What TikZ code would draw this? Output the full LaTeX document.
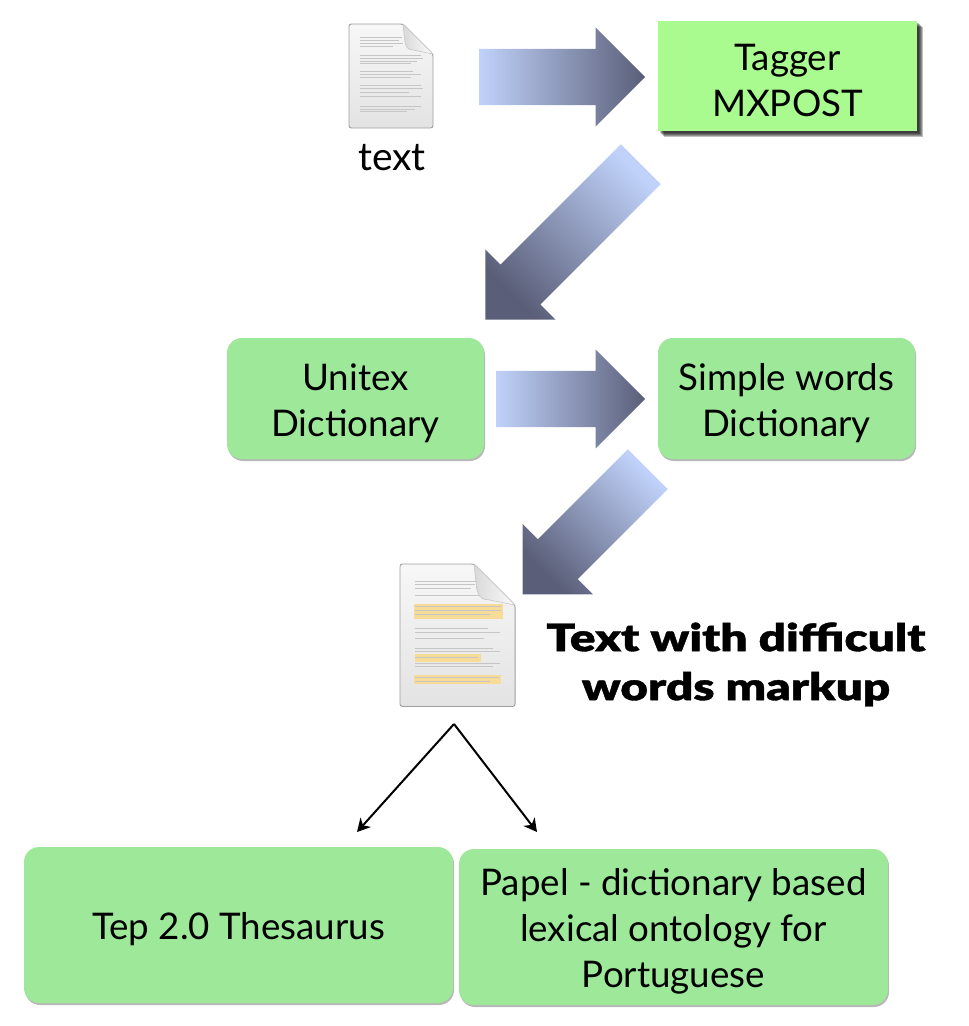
\documentclass[tikz,border=0pt]{standalone}
\usepackage{fontspec}
\setmainfont{Lato}
\newfontfamily\heavyfont[FakeStretch=1.255,FakeBold=1]{Lato Black}
\usetikzlibrary{arrows.meta,shapes.arrows,shadows}

\definecolor{taggergreen}{RGB}{170,251,143}
\definecolor{boxgreen}{RGB}{157,232,153}
\definecolor{arrowlight}{RGB}{192,210,250}
\definecolor{arrowdark}{RGB}{90,94,120}
\definecolor{markyellow}{RGB}{246,220,150}

\newcommand{\lift}{\rule{0pt}{36pt}}

\tikzset{
  doc sheet/.pic={
    \shade[top color=gray!6,bottom color=gray!22,draw=gray!75,line width=0.9pt,rounded corners=2.5pt]
      (0,0) -- (54,0) -- (84,30) -- (84,104) -- (0,104) -- cycle;
    \shade[left color=gray!30,right color=gray!3,draw=gray!45,line width=0.6pt]
      (54,0) -- (84,30) -- (64,26) .. controls (58,26) and (57,22) .. (56,18) -- cycle;
  },
  doc line/.style={draw=gray!45,line width=0.7pt},
  mark bar/.style={fill=markyellow},
  soft layer/.style={general shadow={fill=black,fill opacity=.25,shadow xshift=#1pt,shadow yshift=-#1pt}},
}

\begin{document}
\begin{tikzpicture}[x=1pt,y=-1pt,>={Stealth[length=13pt,width=14pt,inset=4pt]},
  plain box/.style={rectangle,inner sep=0pt,align=center,font=\fontsize{36.7}{46}\selectfont},
  green box/.style={plain box,fill=boxgreen,rounded corners=15pt,
    general shadow={fill=black!28,shadow xshift=1pt,shadow yshift=-2pt}},
  fat arrow/.style={single arrow,anchor=tail,inner xsep=0pt,inner ysep=28pt,
    single arrow head extend=21.5pt,single arrow tip angle=90,
    left color=arrowlight,right color=arrowdark},
  down arrow/.style={fat arrow,rotate=-135,shading angle=-45}]

  \useasboundingbox (0,0) rectangle (969,1026);

  % boxes
  \node[plain box,fill=taggergreen,minimum width=259pt,minimum height=110pt,
    soft layer=6,soft layer=5,soft layer=4,soft layer=3,soft layer=2]
    (tagger) at (787.5,76) {\lift Tagger\\MXPOST};
  \node[green box,minimum width=257pt,minimum height=121pt] (unitex) at (355.5,398.5) {\lift Unitex\\Dictionary};
  \node[green box,minimum width=257pt,minimum height=121pt] (simple) at (786.5,398.5) {\lift Simple words\\Dictionary};
  \node[green box,minimum width=429pt,minimum height=156pt] (tep) at (238.5,925) {\lift Tep 2.0 Thesaurus};
  \node[green box,minimum width=429pt,minimum height=156pt] (papel) at (673.5,927) {\lift Papel - dictionary based\\lexical ontology for\\Portuguese};

  % labels
  \node[inner sep=0pt,align=center,font=\fontsize{39}{46}\selectfont] (textlabel) at (392,158) {text};
  \node[inner sep=0pt,align=center,font=\heavyfont\fontsize{38}{49}\selectfont] (marklabel) at (736,664.5)
    {Text with difficult\\words markup};

  % plain page
  \begin{scope}[shift={(349,24)}]
    \pic (plaindoc) at (0,0) {doc sheet};
    \foreach \ya/\xa/\xb in {13/11/53,16/11/50,19/11/54,22/11/44,31/11/72,34/11/74,37/11/68,39/11/62,
      47/11/64,50/11/72,53/11/62,61/11/72,64/11/74,68/11/60,72/11/72,82/11/72,85/11/66,87/11/58}
      \draw[doc line] (\xa,\ya) -- (\xb,\ya);
  \end{scope}

  % marked page
  \begin{scope}[shift={(400,564)},scale=1.37]
    \pic[transform shape] (markdoc) at (0,0) {doc sheet};
    \fill[mark bar] (10,29) rectangle (75,40);
    \fill[mark bar] (11,65.7) rectangle (59,71.7);
    \fill[mark bar] (10,80.8) rectangle (73.5,87.4);
    \foreach \ya/\xa/\xb in {12.6/11/56,15/11/55,17.5/11/52,22.6/11/58,31/11/74,34/11/74,37/11/66,
      46.7/11/64,49.6/11/73,54.4/11/61,61.3/11/68,63.7/11/73,68/11/57,72.5/11/73,75/11/68,83/11/72,85.5/11/66}
      \draw[doc line] (\xa,\ya) -- (\xb,\ya);
  \end{scope}

  % fat arrows
  \node[fat arrow,minimum height=166pt] (fat1) at (479,77) {};
  \node[down arrow,minimum height=220pt] (fat2) at (641,164) {};
  \node[fat arrow,minimum height=149pt] (fat3) at (496,399) {};
  \node[down arrow,minimum height=177pt] (fat4) at (648,469) {};

  % split
  \coordinate (split) at (454,724);
  \coordinate (tepend) at (357,832);
  \coordinate (papelend) at (537,832);
  \draw[->,line width=2pt] (split) -- (tepend);
  \draw[->,line width=2pt] (split) -- (papelend);

\end{tikzpicture}
\end{document}
